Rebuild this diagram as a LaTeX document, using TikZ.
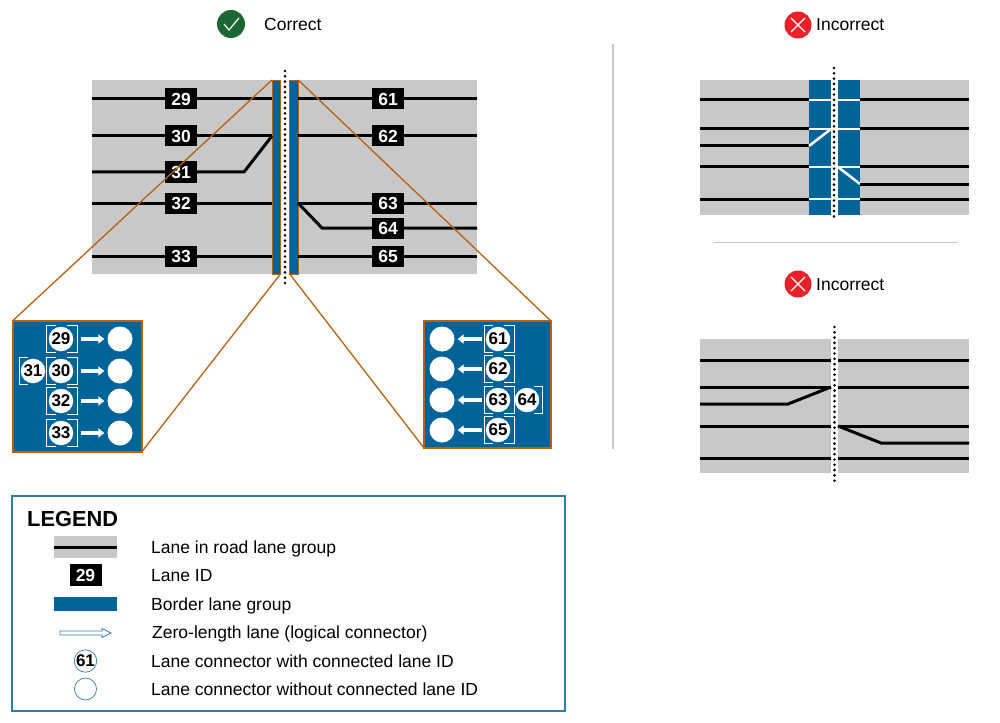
\documentclass[tikz,border=0pt]{standalone}
\usepackage{fontspec}
\setmainfont{Liberation Sans}
\usepackage{xcolor}
\usepackage{tikz}
\usetikzlibrary{arrows.meta}
\definecolor{lanegray}{HTML}{C8C8C8}
\definecolor{borderblue}{HTML}{00649B}
\definecolor{rust}{HTML}{B8600F}
\definecolor{okgreen}{HTML}{1B6632}
\definecolor{badred}{HTML}{E8202A}
\definecolor{legendblue}{HTML}{2F7CAB}
\tikzset{
  lane/.style={black,line width=3pt},
  whitelane/.style={white,line width=2.5pt},
  dots/.style={black,line width=2.9pt,line cap=round,dash pattern=on 0pt off 5.3pt},
  lanebox/.style={fill=black,text=white,inner sep=0pt,minimum width=32pt,minimum height=21pt,font=\fontsize{17.5}{18}\selectfont\bfseries},
  idcirc/.style={circle,fill=white,inner sep=0pt,minimum size=24.5pt,font=\fontsize{17}{18}\selectfont\bfseries},
  emptycirc/.style={circle,fill=white,inner sep=0pt,minimum size=25pt},
  bracket/.style={white,line width=1pt},
  flow/.style={white,line width=3.2pt,-{Triangle[length=6pt,width=9pt]}},
  strip/.style={fill=borderblue,draw=rust,line width=.8pt,inner sep=0pt,outer sep=0pt,minimum width=8.5pt,minimum height=194pt},
  inset/.style={fill=borderblue,draw=rust,line width=2pt,inner sep=0pt,outer sep=0pt},
  leader/.style={rust,line width=1.3pt},
  txt/.style={anchor=base west,inner sep=0pt,font=\fontsize{17.5}{18}\selectfont},
  keycirc/.style={circle,draw=legendblue,line width=.7pt,fill=white,inner sep=0pt,minimum size=22pt,font=\fontsize{17}{18}\selectfont\bfseries}
}
\begin{document}
\begin{tikzpicture}[x=1pt,y=-1pt]
  \useasboundingbox (0,0) rectangle (1000,722);
  % correct
  \node[circle,fill=okgreen,minimum size=28pt,inner sep=0pt] (okmark) at (231,24) {};
  \draw[white,line width=1.2pt] (224,24)--(229,30)--(239,18);
  \node[txt] (oktext) at (264,31) {Correct};
  \fill[lanegray] (92,80) rectangle (477,274);
  \fill[white] (280,80) rectangle (290,274);
  \node[strip] (stripL) at (276.2,177) {};
  \node[strip] (stripR) at (294,177) {};
  \draw[lane] (92,99)--(272,99);
  \draw[lane] (92,136)--(272,136);
  \draw[lane] (92,172)--(244,172)--(272,136);
  \draw[lane] (92,203)--(272,203);
  \draw[lane] (92,256)--(272,256);
  \draw[lane] (298,99)--(477,99);
  \draw[lane] (298,136)--(477,136);
  \draw[lane] (298,203)--(477,203);
  \draw[lane] (298,203)--(322,228)--(477,228);
  \draw[lane] (298,256)--(477,256);
  \draw[dots] (285,71)--(285,283);
  \node[lanebox] (id29) at (181,99) {29};
  \node[lanebox] (id30) at (181,136) {30};
  \node[lanebox] (id31) at (181,172) {31};
  \node[lanebox] (id32) at (181,203) {32};
  \node[lanebox] (id33) at (181,256) {33};
  \node[lanebox] (id61) at (388,99) {61};
  \node[lanebox] (id62) at (388,136) {62};
  \node[lanebox] (id63) at (388,203) {63};
  \node[lanebox] (id64) at (388,228) {64};
  \node[lanebox] (id65) at (388,256) {65};
  % insets
  \node[inset,minimum width=129pt,minimum height=131pt] (insetL) at (77.5,386) {};
  \node[inset,minimum width=127pt,minimum height=127pt] (insetR) at (487.5,384.5) {};
  \draw[leader] (insetL.north west)--(stripL.north west);
  \draw[leader] (insetL.south east)--(stripL.south east);
  \draw[leader] (insetR.north east)--(stripR.north east);
  \draw[leader] (insetR.south west)--(stripR.south west);
  \foreach \yy/\lab in {339/29,371/30,401/32,433/33}{
    \draw[bracket] (56,\yy-13.5)--(46,\yy-13.5)--(46,\yy+13.5)--(56,\yy+13.5);
    \draw[bracket] (67,\yy-13.5)--(77,\yy-13.5)--(77,\yy+13.5)--(67,\yy+13.5);
    \node[idcirc] (c\lab) at (61,\yy) {\lab};
    \node[emptycirc] (e\lab) at (120,\yy) {};
    \draw[flow,shorten <=7.5pt,shorten >=3pt] (c\lab)--(e\lab);
  }
  \draw[bracket] (28,357.5)--(19,357.5)--(19,384.5)--(28,384.5);
  \node[idcirc] (c31) at (33,371) {31};
  \foreach \yy/\lab in {339/61,369/62,400/63,430/65}{
    \draw[bracket] (493,\yy-13.5)--(484,\yy-13.5)--(484,\yy+13.5)--(493,\yy+13.5);
    \draw[bracket] (504,\yy-13.5)--(514,\yy-13.5)--(514,\yy+13.5)--(504,\yy+13.5);
    \node[idcirc] (c\lab) at (498,\yy) {\lab};
    \node[emptycirc] (e\lab) at (442,\yy) {};
    \draw[flow,shorten <=4pt,shorten >=3pt] (c\lab)--(e\lab);
  }
  \draw[bracket] (534,386.5)--(542,386.5)--(542,413.5)--(534,413.5);
  \node[idcirc] (c64) at (527,400) {64};
  \draw[lanegray,line width=1.3pt] (613,44)--(613,449);
  % incorrect top
  \node[circle,fill=badred,minimum size=27pt,inner sep=0pt] (badmarkA) at (798,25) {};
  \draw[white,line width=1.2pt] (791,18)--(805,32) (805,18)--(791,32);
  \node[txt] (badtextA) at (816,31) {Incorrect};
  \fill[lanegray] (700,80) rectangle (969,215);
  \fill[white] (831,80) rectangle (838,215);
  \fill[borderblue] (809,80) rectangle (831,215);
  \fill[borderblue] (838,80) rectangle (860,215);
  \foreach \yy in {100,129,167,199}{
    \draw[lane] (700,\yy)--(809,\yy);
    \draw[whitelane] (809,\yy)--(831,\yy);
    \draw[whitelane] (838,\yy)--(860,\yy);
    \draw[lane] (860,\yy)--(969,\yy);
  }
  \draw[lane] (700,146)--(809,146);
  \draw[whitelane] (809,146)--(831,129);
  \draw[whitelane] (838,167)--(860,184);
  \draw[lane] (860,184)--(969,184);
  \draw[dots] (834,68)--(834,221);
  \draw[lanegray,line width=1pt] (713,242)--(957,242);
  % incorrect bottom
  \node[circle,fill=badred,minimum size=27pt,inner sep=0pt] (badmarkB) at (798,284) {};
  \draw[white,line width=1.2pt] (791,277)--(805,291) (805,277)--(791,291);
  \node[txt] (badtextB) at (816,290) {Incorrect};
  \fill[lanegray] (700,339) rectangle (969,473);
  \fill[white] (831,339) rectangle (838,473);
  \foreach \yy in {360,387,426,458}{
    \draw[lane] (700,\yy)--(831,\yy);
    \draw[lane] (838,\yy)--(969,\yy);
  }
  \draw[lane] (700,404)--(788,404)--(831,387);
  \draw[lane] (838,426)--(881,443)--(969,443);
  \draw[dots] (834.5,327)--(834.5,481);
  % legend
  \draw[legendblue,line width=1.5pt] (12,496) rectangle (565,711);
  \node[anchor=base west,inner sep=0pt,font=\fontsize{21.8}{22}\selectfont\bfseries] (legendtitle) at (27,526) {LEGEND};
  \fill[lanegray] (54,536) rectangle (117,558);
  \draw[lane] (54,547)--(117,547);
  \node[lanebox,minimum height=22pt] (idkey) at (85.5,575) {29};
  \fill[borderblue] (54,597) rectangle (117,611);
  \draw[legendblue,fill=white,line width=.7pt] (60,631)--(102,631)--(102,628.5)--(111,633)--(102,637.5)--(102,635)--(60,635)--cycle;
  \node[keycirc] (circkey) at (85.5,661) {61};
  \node[keycirc] (emptykey) at (85.5,689) {};
  \node[txt] (t1) at (151,553) {Lane in road lane group};
  \node[txt] (t2) at (151,581.5) {Lane ID};
  \node[txt] (t3) at (151,610) {Border lane group};
  \node[txt] (t4) at (152,638.5) {Zero-length lane (logical connector)};
  \node[txt] (t5) at (151,667) {Lane connector with connected lane ID};
  \node[txt] (t6) at (151,695) {Lane connector without connected lane ID};
\end{tikzpicture}
\end{document}
